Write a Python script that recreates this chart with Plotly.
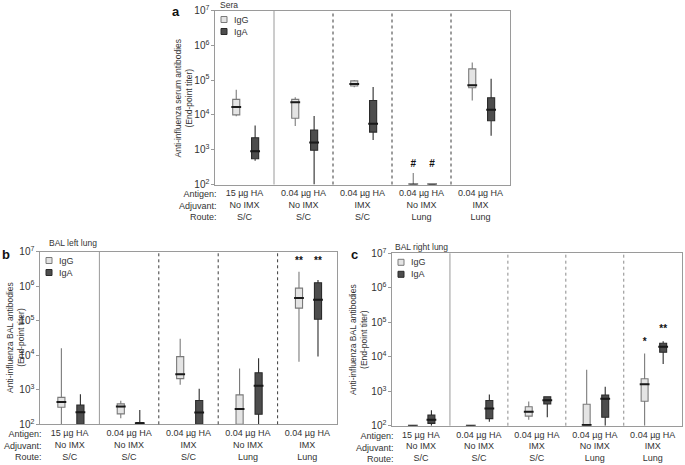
import plotly.graph_objects as go

# Group labels shared by all three panels
GROUP_LABELS = [
    "15 µg HA<br>No IMX<br>S/C",
    "0.04 µg HA<br>No IMX<br>S/C",
    "0.04 µg HA<br>IMX<br>S/C",
    "0.04 µg HA<br>No IMX<br>Lung",
    "0.04 µg HA<br>IMX<br>Lung",
]
ROW_HEADERS = "Antigen:<br>Adjuvant:<br>Route:"
SERIES = ["IgG", "IgA"]

# Box stats per group: (lower whisker, q1, median, q3, upper whisker), end-point titer
SERA_IGG = [
    (9.1e3, 1.0e4, 1.7e4, 2.8e4, 5.3e4),
    (4.8e3, 8.0e3, 2.3e4, 2.8e4, 3.2e4),
    (6.2e4, 6.8e4, 7.7e4, 9.5e4, 1.0e5),
    (100, 100, 100, 100, 215),
    (2.6e4, 6.0e4, 7.1e4, 2.1e5, 3.2e5),
]
SERA_IGA = [
    (480, 550, 910, 2.2e3, 5.0e3),
    (100, 960, 1.6e3, 3.7e3, 9.3e3),
    (1.9e3, 3.2e3, 5.6e3, 2.6e4, 6.3e4),
    (100, 100, 100, 100, 100),
    (2.5e3, 6.8e3, 1.4e4, 3.1e4, 1.1e5),
]
BAL_LEFT_IGG = [
    (100, 310, 440, 600, 1.6e4),
    (150, 200, 325, 390, 480),
    (1.4e3, 2.1e3, 2.8e3, 9.1e3, 3.0e4),
    (100, 100, 275, 710, 4.1e3),
    (6.5e3, 2.3e5, 4.5e5, 8.7e5, 2.6e6),
]
BAL_LEFT_IGA = [
    (100, 100, 225, 360, 740),
    (100, 100, 107, 112, 260),
    (100, 100, 220, 490, 1.07e3),
    (100, 195, 1.3e3, 3.1e3, 8.1e3),
    (9.1e3, 1.1e5, 4.0e5, 1.25e6, 1.5e6),
]
BAL_RIGHT_IGG = [
    (100, 100, 100, 100, 104),
    (100, 100, 100, 100, 104),
    (150, 190, 255, 355, 500),
    (100, 100, 104, 420, 4.2e3),
    (100, 510, 1.6e3, 2.3e3, 1.25e4),
]
BAL_RIGHT_IGA = [
    (100, 117, 150, 205, 280),
    (130, 160, 315, 540, 810),
    (175, 425, 550, 690, 690),
    (100, 175, 600, 780, 1.35e3),
    (6.2e3, 1.35e4, 1.95e4, 2.45e4, 2.8e4),
]

# Significance marks: (text, group index, series, height as titer)
SERA_MARKS = [("#", 3, "IgG", 380), ("#", 3, "IgA", 380)]
BAL_LEFT_MARKS = [("**", 4, "IgG", 5.0e6), ("**", 4, "IgA", 5.0e6)]
BAL_RIGHT_MARKS = [("*", 4, "IgG", 2.6e4), ("**", 4, "IgA", 6.3e4)]

FONT = "Liberation Sans, Arial, sans-serif"
TXT = "#333333"
W, H = 685, 465
STYLE = {
    "IgG": dict(fill="#e4e4e4", line="#7a7a7a", median="#1a1a1a", offset=-0.14),
    "IgA": dict(fill="#4d4d4d", line="#2b2b2b", median="#1a1a1a", offset=0.18),
}

# panel boxes in pixels: left, top, right, bottom
PANELS = {
    "": (215, 10.5, 510, 184.5),
    "2": (40, 251.5, 337, 424.3),
    "3": (392, 253.3, 681.7, 425.7),
}

fig = go.Figure()


def px(x, y):
    return x / W, 1 - y / H


def note(text, x, y, size=9, color=TXT, xanchor="center", yanchor="middle", **kw):
    fx, fy = px(x, y)
    fig.add_annotation(text=text, xref="paper", yref="paper", x=fx, y=fy,
                       xanchor=xanchor, yanchor=yanchor, showarrow=False,
                       font=dict(size=size, color=color, family=FONT), **kw)


def add_panel(fig, sfx, igg, iga, marks, ytitle, title_x, divider_color):
    left, top, right, bottom = PANELS[sfx]
    for name, stats in zip(SERIES, (igg, iga)):
        st = STYLE[name]
        xs = [i + st["offset"] for i in range(len(stats))]
        fig.add_trace(go.Box(
            x=xs,
            lowerfence=[s[0] for s in stats],
            q1=[s[1] for s in stats],
            median=[s[2] for s in stats],
            q3=[s[3] for s in stats],
            upperfence=[s[4] for s in stats],
            orientation="v",
            width=0.12,
            whiskerwidth=0,
            fillcolor=st["fill"],
            line=dict(color=st["line"], width=1.1),
            boxpoints=False,
            showlegend=False,
            hoverinfo="skip",
            xaxis="x" + sfx, yaxis="y" + sfx,
        ))
        # heavier median bar
        fig.add_trace(go.Scatter(
            x=xs, y=[s[2] for s in stats], mode="markers",
            marker=dict(symbol="line-ew", size=7,
                        line=dict(color=st["median"], width=2)),
            showlegend=False, hoverinfo="skip",
            xaxis="x" + sfx, yaxis="y" + sfx,
        ))
    fig.add_trace(go.Scatter(
        x=[g + STYLE[s]["offset"] for _, g, s, _ in marks],
        y=[v for _, _, _, v in marks],
        text=["<b>%s</b>" % t for t, _, _, _ in marks],
        mode="text", textfont=dict(size=10, color="#111111", family=FONT),
        showlegend=False, hoverinfo="skip",
        xaxis="x" + sfx, yaxis="y" + sfx,
    ))
    # group dividers: first solid, rest dotted
    for i in range(len(GROUP_LABELS) - 1):
        fig.add_shape(
            type="line", xref="x" + sfx, yref="y%s domain" % sfx,
            x0=i + 0.5, x1=i + 0.5, y0=0, y1=1,
            line=dict(color="#9a9a9a" if i == 0 else divider_color, width=1,
                      dash="solid" if i == 0 else "dot"),
        )
    fig.add_annotation(
        text=ROW_HEADERS, xref="x%s domain" % sfx, yref="y%s domain" % sfx,
        x=0, y=0, xanchor="right", yanchor="top", align="right",
        xshift=4, yshift=-3, showarrow=False,
        font=dict(size=9, color=TXT, family=FONT),
    )
    # y-axis title
    note(ytitle, title_x, (top + bottom) / 2, size=8.5, textangle=-90)
    # legend swatches and labels
    for k, name in enumerate(SERIES):
        st = STYLE[name]
        x0, y0 = px(left + 6, top + 6 + 12 * k)
        x1, y1 = px(left + 12, top + 12 + 12 * k)
        fig.add_shape(type="rect", xref="paper", yref="paper",
                      x0=x0, x1=x1, y0=y1, y1=y0, fillcolor=st["fill"],
                      line=dict(color=st["line"], width=1))
        note(name, left + 17, top + 9 + 12 * k, xanchor="left")


add_panel(fig, "", SERA_IGG, SERA_IGA, SERA_MARKS,
          "Anti-influenza serum antibodies<br>(End-point titer)", 183, "#3a3a3a")
add_panel(fig, "2", BAL_LEFT_IGG, BAL_LEFT_IGA, BAL_LEFT_MARKS,
          "Anti-influenza BAL antibodies<br>(End-point titer)", 16, "#3a3a3a")
add_panel(fig, "3", BAL_RIGHT_IGG, BAL_RIGHT_IGA, BAL_RIGHT_MARKS,
          "Anti-influenza BAL antibodies<br>(End-point titer)", 358.5, "#8a8a8a")


def xax(sfx):
    left, top, right, bottom = PANELS[sfx]
    return dict(
        domain=[left / W, right / W], anchor="y" + sfx, range=[-0.5, 4.5],
        tickvals=list(range(5)), ticktext=GROUP_LABELS, ticks="",
        showline=True, mirror=True, linecolor="#9a9a9a", linewidth=1,
        showgrid=False, zeroline=False,
        tickfont=dict(size=9, color=TXT, family=FONT), automargin=False,
    )


def yax(sfx):
    left, top, right, bottom = PANELS[sfx]
    return dict(
        domain=[1 - bottom / H, 1 - top / H], anchor="x" + sfx, type="log",
        range=[2, 7], dtick=1, exponentformat="power", ticks="outside",
        ticklen=3, tickcolor="#9a9a9a", showline=True, mirror=True,
        linecolor="#9a9a9a", linewidth=1, showgrid=False, zeroline=False,
        tickfont=dict(size=8, color=TXT, family=FONT), automargin=False,
    )


fig.update_layout(
    width=W, height=H,
    margin=dict(l=0, r=0, t=0, b=0),
    paper_bgcolor="white", plot_bgcolor="white",
    font=dict(family=FONT, color=TXT),
    xaxis=xax(""), yaxis=yax(""),
    xaxis2=xax("2"), yaxis2=yax("2"),
    xaxis3=xax("3"), yaxis3=yax("3"),
    showlegend=False,
)

# panel letters and titles
for letter, x, y in (("a", 176, 12), ("b", 6, 254), ("c", 354, 255)):
    note("<b>%s</b>" % letter, x, y, size=13, color="#111111")
for title, x, y in (("Sera", 229, 5), ("BAL left lung", 73, 243), ("BAL right lung", 421, 247)):
    note(title, x, y, size=8.5)

fig.write_html("out.html", config={"displayModeBar": False},
               post_script="document.body.style.margin='0';")
